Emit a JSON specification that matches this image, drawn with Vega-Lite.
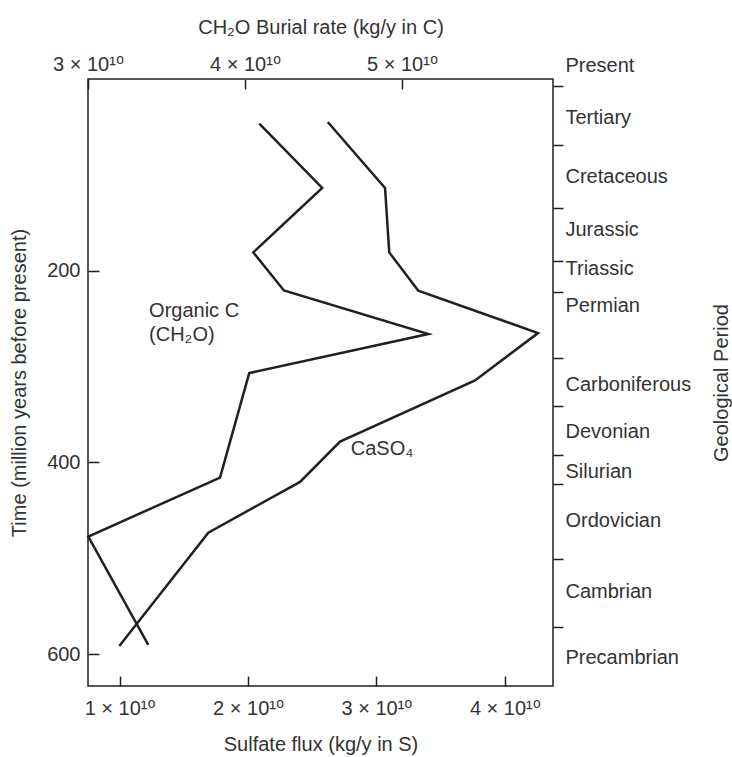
{
  "$schema": "https://vega.github.io/schema/vega-lite/v6.json",
  "width": 465,
  "height": 607,
  "autosize": {"type": "none"},
  "padding": {"left": 88, "top": 79, "right": 179, "bottom": 71},
  "background": "white",
  "config": {
    "view": {"stroke": "#231f20", "strokeWidth": 1.5},
    "font": "Liberation Sans, DejaVu Sans, sans-serif",
    "text": {"font": "Liberation Sans, DejaVu Sans, sans-serif", "fontSize": 20, "color": "#333333"},
    "axis": {
      "grid": false,
      "domain": false,
      "labelFont": "Liberation Sans, DejaVu Sans, sans-serif",
      "titleFont": "Liberation Sans, DejaVu Sans, sans-serif",
      "labelFontSize": 20,
      "titleFontSize": 20,
      "titleFontWeight": "normal",
      "labelColor": "#333333",
      "titleColor": "#333333",
      "tickColor": "#231f20",
      "tickWidth": 1.5,
      "labelOverlap": false,
      "labelFlush": false,
      "labelBound": false
    }
  },
  "datasets": {
    "organic": [
      {"time": 46.6, "burial": 4.091},
      {"time": 113.7, "burial": 4.492},
      {"time": 180.9, "burial": 4.053},
      {"time": 220.6, "burial": 4.248},
      {"time": 266.1, "burial": 5.168},
      {"time": 306.8, "burial": 4.027},
      {"time": 415.8, "burial": 3.841},
      {"time": 477.3, "burial": 3.002},
      {"time": 590.4, "burial": 3.384}
    ],
    "caso4": [
      {"time": 44.8, "flux": 2.621},
      {"time": 113.7, "flux": 3.067},
      {"time": 180.9, "flux": 3.1},
      {"time": 220.9, "flux": 3.326},
      {"time": 265.0, "flux": 4.258},
      {"time": 314.5, "flux": 3.768},
      {"time": 378.2, "flux": 2.717},
      {"time": 420.3, "flux": 2.405},
      {"time": 473.2, "flux": 1.691},
      {"time": 591.4, "flux": 0.998}
    ],
    "organicLabels": [
      {"burial": 3.389, "time": 241.5, "label": "Organic C"},
      {"burial": 3.389, "time": 266.8, "label": "(CH₂O)"}
    ],
    "caso4Labels": [
      {"flux": 2.8, "time": 385.9, "label": "CaSO₄"}
    ],
    "boundaries": [
      {"t": 7.6}, {"t": 68.5}, {"t": 135}, {"t": 189.6}, {"t": 222}, {"t": 290.8},
      {"t": 341.6}, {"t": 392}, {"t": 423}, {"t": 501}, {"t": 572}
    ],
    "periods": [
      {"t": -14.5, "name": "Present"},
      {"t": 40.6, "name": "Tertiary"},
      {"t": 101.9, "name": "Cretaceous"},
      {"t": 157.2, "name": "Jurassic"},
      {"t": 197.2, "name": "Triassic"},
      {"t": 236.3, "name": "Permian"},
      {"t": 319, "name": "Carboniferous"},
      {"t": 368, "name": "Devonian"},
      {"t": 409, "name": "Silurian"},
      {"t": 461, "name": "Ordovician"},
      {"t": 535, "name": "Cambrian"},
      {"t": 603, "name": "Precambrian"}
    ]
  },
  "layer": [
    {
      "data": {"name": "organic"},
      "mark": {"type": "line", "color": "#231f20", "strokeWidth": 2.5, "strokeJoin": "miter"},
      "encoding": {
        "x": {
          "field": "burial", "type": "quantitative",
          "scale": {"domain": [3, 5.962], "nice": false, "zero": false},
          "axis": {
            "orient": "top", "values": [3, 4, 5], "tickSize": -10, "labelPadding": 15,
            "labelExpr": "datum.value + ' × 10¹⁰'",
            "title": "CH₂O Burial rate (kg/y in C)", "titlePadding": 17
          }
        },
        "y": {
          "field": "time", "type": "quantitative",
          "scale": {"domain": [0, 633.2], "nice": false, "zero": false, "reverse": true},
          "axis": {
            "orient": "left", "values": [200, 400, 600], "tickSize": -11, "labelPadding": 19,
            "title": "Time (million years before present)", "titlePadding": 17
          }
        },
        "order": {"field": "time", "type": "quantitative"}
      }
    },
    {
      "data": {"name": "caso4"},
      "mark": {"type": "line", "color": "#231f20", "strokeWidth": 2.5, "strokeJoin": "miter"},
      "encoding": {
        "x": {
          "field": "flux", "type": "quantitative",
          "scale": {"domain": [0.754, 4.375], "nice": false, "zero": false},
          "axis": {
            "orient": "bottom", "values": [1, 2, 3, 4], "tickSize": -10, "labelPadding": 22,
            "labelExpr": "datum.value + ' × 10¹⁰'",
            "title": "Sulfate flux (kg/y in S)", "titlePadding": 16
          }
        },
        "y": {
          "field": "time", "type": "quantitative",
          "scale": {"domain": [0, 633.2], "nice": false, "zero": false, "reverse": true},
          "axis": null
        },
        "order": {"field": "time", "type": "quantitative"}
      }
    },
    {
      "data": {"name": "organicLabels"},
      "mark": {"type": "text", "align": "left", "baseline": "middle", "fontSize": 20, "color": "#333333"},
      "encoding": {
        "x": {"field": "burial", "type": "quantitative", "scale": {"domain": [3, 5.962], "nice": false, "zero": false}, "axis": null},
        "y": {"field": "time", "type": "quantitative", "scale": {"domain": [0, 633.2], "nice": false, "zero": false, "reverse": true}, "axis": null},
        "text": {"field": "label"}
      }
    },
    {
      "data": {"name": "caso4Labels"},
      "mark": {"type": "text", "align": "left", "baseline": "middle", "fontSize": 20, "color": "#333333"},
      "encoding": {
        "x": {"field": "flux", "type": "quantitative", "scale": {"domain": [0.754, 4.375], "nice": false, "zero": false}, "axis": null},
        "y": {"field": "time", "type": "quantitative", "scale": {"domain": [0, 633.2], "nice": false, "zero": false, "reverse": true}, "axis": null},
        "text": {"field": "label"}
      }
    },
    {
      "data": {"name": "boundaries"},
      "mark": {"type": "point", "opacity": 0},
      "encoding": {
        "y": {
          "field": "t", "type": "quantitative",
          "scale": {"domain": [0, 633.2], "nice": false, "zero": false, "reverse": true},
          "axis": {
            "orient": "right", "values": [7.6, 68.5, 135, 189.6, 222, 290.8, 341.6, 392, 423, 501, 572],
            "labels": false, "tickSize": 10, "title": null
          }
        }
      }
    },
    {
      "data": {"name": "periods"},
      "mark": {"type": "point", "opacity": 0},
      "encoding": {
        "y": {
          "field": "t", "type": "quantitative",
          "scale": {"domain": [0, 633.2], "nice": false, "zero": false, "reverse": true},
          "axis": {
            "orient": "right",
            "values": [5.5, 60.6, 121.9, 177.2, 217.2, 256.3, 339, 388, 429, 481, 555, 623],
            "labelOffset": -19.16,
            "ticks": false, "tickSize": 0, "labelPadding": 12, "labelAlign": "left",
            "labelExpr": "datum.value == 5.5 ? 'Present' : datum.value == 60.6 ? 'Tertiary' : datum.value == 121.9 ? 'Cretaceous' : datum.value == 177.2 ? 'Jurassic' : datum.value == 217.2 ? 'Triassic' : datum.value == 256.3 ? 'Permian' : datum.value == 339 ? 'Carboniferous' : datum.value == 388 ? 'Devonian' : datum.value == 429 ? 'Silurian' : datum.value == 481 ? 'Ordovician' : datum.value == 555 ? 'Cambrian' : 'Precambrian'",
            "title": "Geological Period", "titleAngle": -90, "titleBaseline": "top", "titlePadding": 21
          }
        }
      }
    }
  ],
  "resolve": {"scale": {"x": "independent"}, "axis": {"x": "independent", "y": "independent"}}
}
